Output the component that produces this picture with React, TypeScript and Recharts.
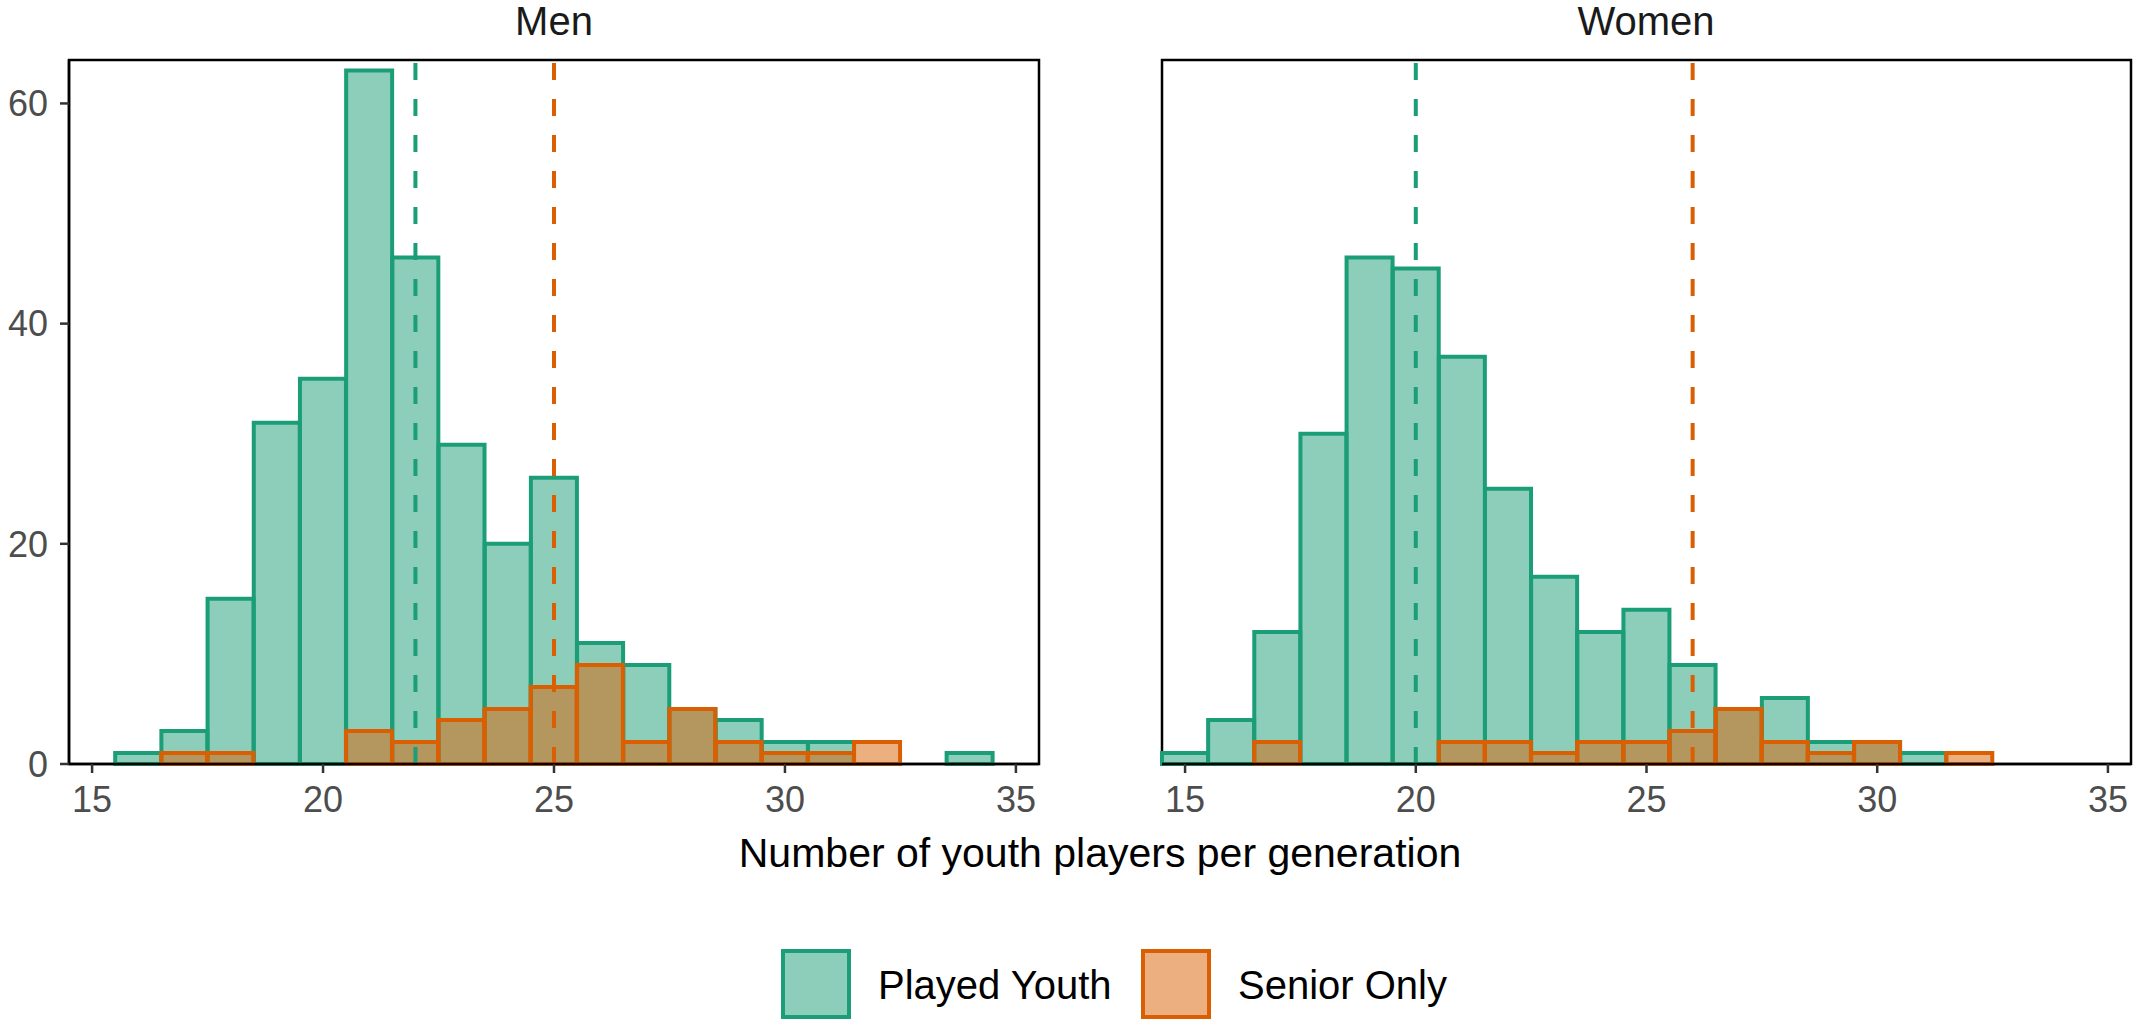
import React from "react";
import {
  Bar,
  ComposedChart,
  ReferenceArea,
  ReferenceLine,
  XAxis,
  YAxis,
} from "recharts";

// histogram bins (width 1, centred on the integer)
const bins = [15, 16, 17, 18, 19, 20, 21, 22, 23, 24, 25, 26, 27, 28, 29, 30, 31, 32, 33, 34, 35];

const menPlayedYouth = [0, 1, 3, 15, 31, 35, 63, 46, 29, 20, 26, 11, 9, 5, 4, 2, 2, 0, 0, 1, 0];
const menSeniorOnly = [0, 0, 1, 1, 0, 0, 3, 2, 4, 5, 7, 9, 2, 5, 2, 1, 1, 2, 0, 0, 0];
const womenPlayedYouth = [1, 4, 12, 30, 46, 45, 37, 25, 17, 12, 14, 9, 5, 6, 2, 2, 1, 0, 0, 0, 0];
const womenSeniorOnly = [0, 0, 2, 0, 0, 0, 2, 2, 1, 2, 2, 3, 5, 2, 1, 2, 0, 1, 0, 0, 0];

// dashed lines (medians)
const menLines = [22, 25];
const womenLines = [20, 26];

const yTicks = [0, 20, 40, 60];
const yMax = 63.945;

const GREEN = "#1B9E77";
const ORANGE = "#D95F02";
const FONT = "'Liberation Sans', Arial, Helvetica, sans-serif";

const toRows = (youth: number[], senior: number[]) =>
  bins.map((bin, i) => ({ bin, youth: youth[i], senior: senior[i] }));

type PanelProps = {
  rows: { bin: number; youth: number; senior: number }[];
  lines: number[];
  showY: boolean;
  width: number;
  margin: { top: number; right: number; bottom: number; left: number };
};

function Panel({ rows, lines, showY, width, margin }: PanelProps) {
  return (
    <ComposedChart
      width={width}
      height={830}
      data={rows}
      margin={margin}
      barGap="-100%"
      barCategoryGap={0}
    >
      <XAxis
        dataKey="bin"
        type="category"
        interval={4}
        height={66}
        tickSize={9}
        tickMargin={13}
        axisLine={{ stroke: "#000", strokeWidth: 2.5 }}
        tickLine={{ stroke: "#333", strokeWidth: 2.5 }}
        tick={{ fontSize: 36, fill: "#4D4D4D", fontFamily: FONT }}
      />
      <YAxis
        type="number"
        domain={[0, yMax]}
        ticks={yTicks}
        hide={!showY}
        width={69}
        tickSize={9}
        tickMargin={12}
        axisLine={{ stroke: "#000", strokeWidth: 2.5 }}
        tickLine={{ stroke: "#333", strokeWidth: 2.5 }}
        tick={{ fontSize: 36, fill: "#4D4D4D", fontFamily: FONT }}
      />
      <Bar
        dataKey="youth"
        fill={GREEN}
        fillOpacity={0.5}
        stroke={GREEN}
        strokeWidth={4}
        isAnimationActive={false}
      />
      <Bar
        dataKey="senior"
        fill={ORANGE}
        fillOpacity={0.5}
        stroke={ORANGE}
        strokeWidth={4}
        isAnimationActive={false}
      />
      <ReferenceLine
        x={lines[0]}
        stroke={GREEN}
        strokeWidth={4}
        strokeDasharray="17 19"
      />
      <ReferenceLine
        x={lines[1]}
        stroke={ORANGE}
        strokeWidth={4}
        strokeDasharray="17 19"
      />
      <ReferenceArea
        x1={bins[0]}
        x2={bins[bins.length - 1]}
        y1={0}
        y2={yMax}
        fill="none"
        stroke="#000"
        strokeWidth={2.5}
        ifOverflow="visible"
      />
    </ComposedChart>
  );
}

export default function App() {
  return (
    <div
      style={{
        position: "relative",
        width: 2138,
        height: 1027,
        background: "#fff",
        fontFamily: FONT,
        overflow: "hidden",
      }}
    >
      <style>{"body{margin:0}"}</style>
      <div style={{ position: "absolute", left: 0, top: 0 }}>
        <Panel
          rows={toRows(menPlayedYouth, menSeniorOnly)}
          lines={menLines}
          showY={true}
          width={1045}
          margin={{ top: 60, right: 6, bottom: 0, left: 0 }}
        />
      </div>
      <div style={{ position: "absolute", left: 1156, top: 0 }}>
        <Panel
          rows={toRows(womenPlayedYouth, womenSeniorOnly)}
          lines={womenLines}
          showY={false}
          width={982}
          margin={{ top: 60, right: 7, bottom: 0, left: 6 }}
        />
      </div>
      <svg
        width={2138}
        height={1027}
        style={{ position: "absolute", left: 0, top: 0, pointerEvents: "none" }}
        fontFamily={FONT}
      >
        <text x={554} y={35} fontSize={40} textAnchor="middle" fill="#1a1a1a">
          Men
        </text>
        <text x={1646} y={35} fontSize={40} textAnchor="middle" fill="#1a1a1a">
          Women
        </text>
        <text x={1100} y={867} fontSize={41} textAnchor="middle" fill="#000">
          Number of youth players per generation
        </text>
        <rect x={783} y={951} width={66} height={66} fill={GREEN} fillOpacity={0.5} stroke={GREEN} strokeWidth={4} />
        <text x={878} y={999} fontSize={40} fill="#000">
          Played Youth
        </text>
        <rect x={1143} y={951} width={66} height={66} fill={ORANGE} fillOpacity={0.5} stroke={ORANGE} strokeWidth={4} />
        <text x={1238} y={999} fontSize={40} fill="#000">
          Senior Only
        </text>
      </svg>
    </div>
  );
}
